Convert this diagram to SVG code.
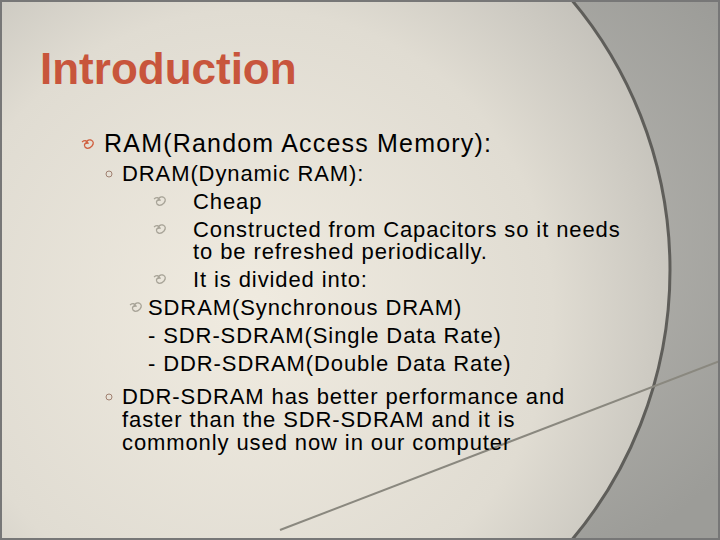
<svg xmlns="http://www.w3.org/2000/svg" width="720" height="540" viewBox="0 0 720 540">
<defs>
<radialGradient id="bg" cx="0.45" cy="0.45" r="0.7"><stop offset="0" stop-color="#c8c6c0"/><stop offset="1" stop-color="#9c9c98"/></radialGradient>
<radialGradient id="el" cx="0.5" cy="0.55" r="0.6"><stop offset="0" stop-color="#f0ebe0"/><stop offset="0.6" stop-color="#e0dcd2"/><stop offset="1" stop-color="#bab8b2"/></radialGradient>
<path id="b" d="M0,-5 q4,-3 6,1 q-5,0 -3,4 q3,3 7,-1 q3,-4 -1,-6 q-4,-1 -5,3" fill="none" stroke-width="1.3"/>
</defs>
<style>
.t{font-family:"Liberation Sans",Arial,sans-serif;fill:#000}
.s{font-size:22px;letter-spacing:0.9px}
.g use{stroke:#a8a498}
</style>
<rect width="720" height="540" fill="url(#bg)"/>
<circle cx="250" cy="270" r="420" fill="url(#el)" stroke="#5f5e5a" stroke-width="3"/>
<line x1="280" y1="530" x2="720" y2="361" stroke="#8a887f" stroke-width="2"/>
<rect x="1" y="1" width="718" height="538" fill="none" stroke="#777" stroke-width="2"/>
<text x="40" y="84" class="t" style="font-size:44px;font-weight:bold;fill:#c8553c">Introduction</text>
<use href="#b" x="82" y="147" stroke="#d06040"/>
<text x="104" y="152" class="t" style="font-size:25px;letter-spacing:1.2px">RAM(Random Access Memory):</text>
<circle cx="109" cy="174" r="3" fill="none" stroke="#a08070" stroke-width="1"/>
<text x="122" y="181" class="t s">DRAM(Dynamic RAM):</text>
<g class="g">
<use href="#b" x="154" y="204"/>
<use href="#b" x="154" y="232"/>
<use href="#b" x="154" y="282"/>
<use href="#b" x="130" y="310"/>
</g>
<text x="193" y="209" class="t s">Cheap</text>
<text x="193" y="237" class="t s">Constructed from Capacitors so it needs</text>
<text x="193" y="259" class="t s">to be refreshed periodically.</text>
<text x="193" y="287" class="t s">It is divided into:</text>
<text x="148" y="315" class="t s">SDRAM(Synchronous DRAM)</text>
<text x="148" y="343" class="t s">- SDR-SDRAM(Single Data Rate)</text>
<text x="148" y="371" class="t s">- DDR-SDRAM(Double Data Rate)</text>
<circle cx="109" cy="397" r="3" fill="none" stroke="#a08070" stroke-width="1"/>
<text x="122" y="404" class="t s">DDR-SDRAM has better performance and</text>
<text x="122" y="427" class="t s">faster than the SDR-SDRAM and it is</text>
<text x="122" y="450" class="t s">commonly used now in our computer</text>
</svg>
